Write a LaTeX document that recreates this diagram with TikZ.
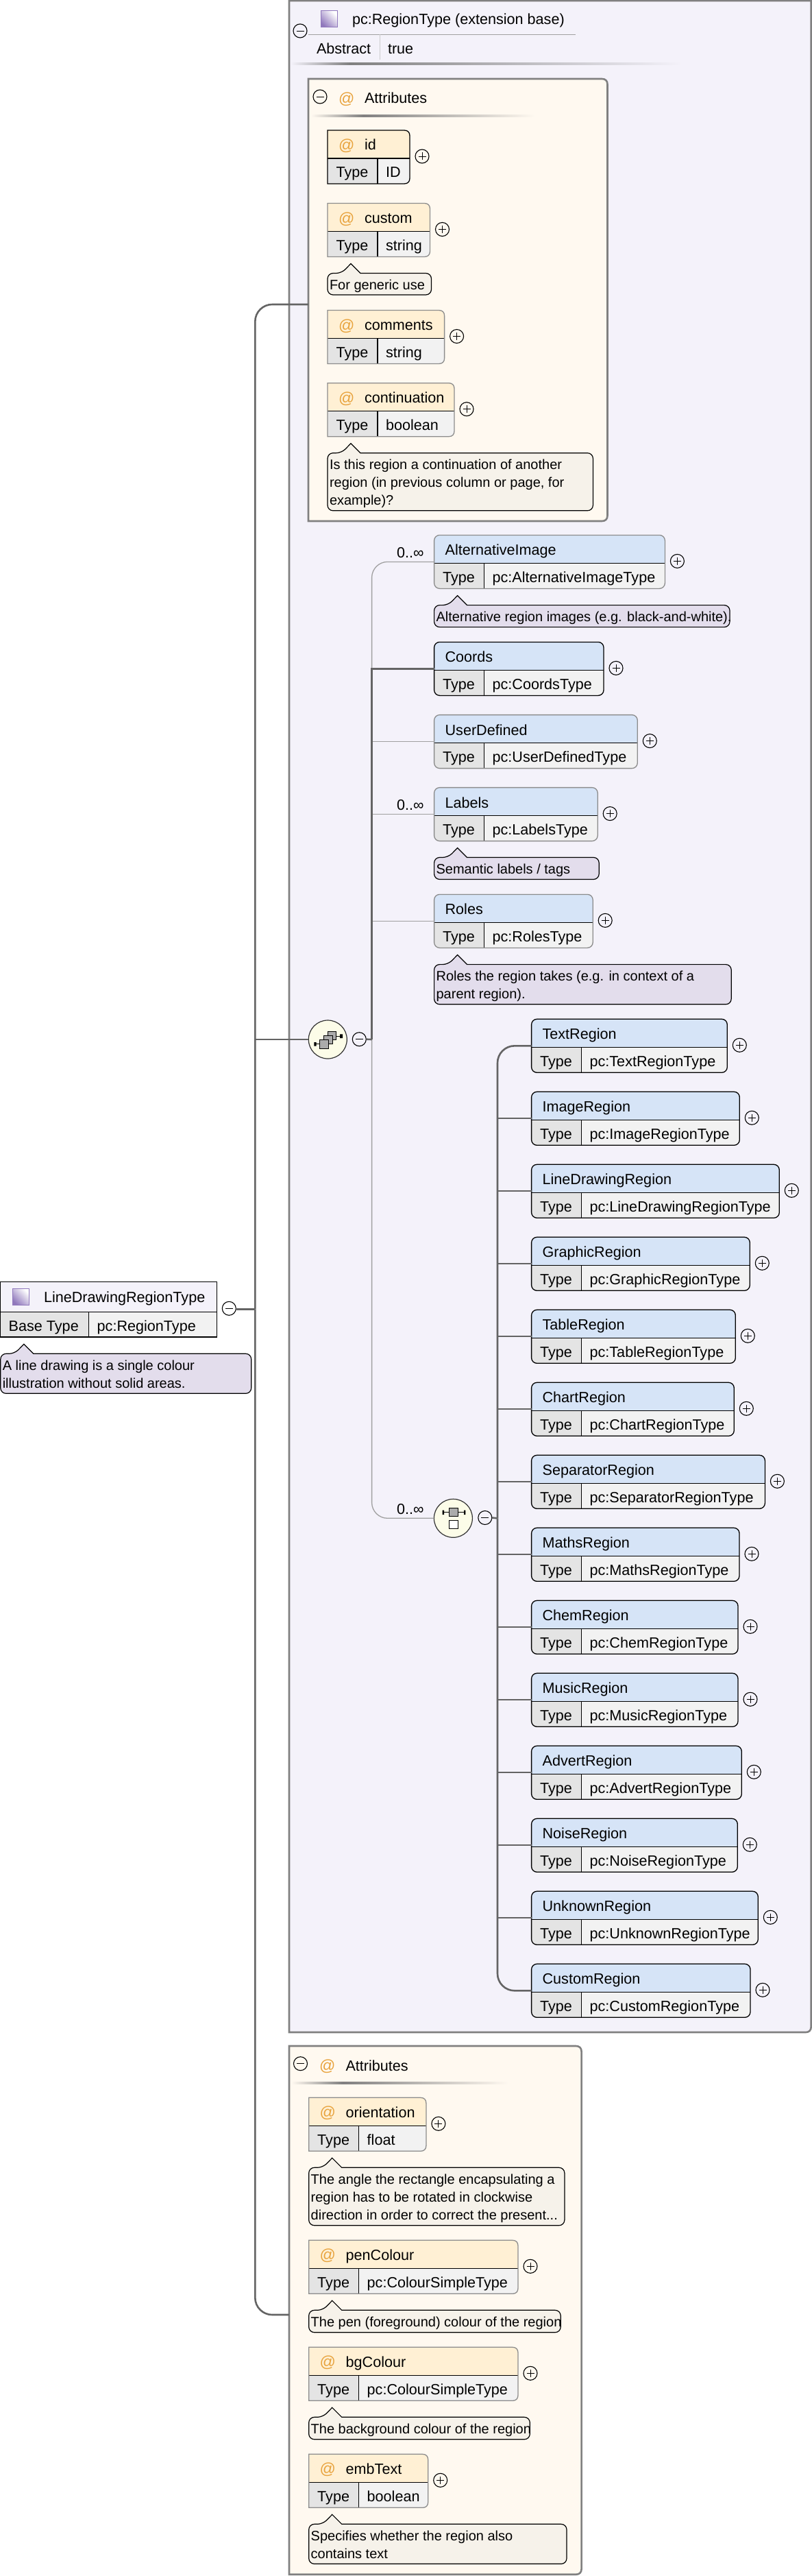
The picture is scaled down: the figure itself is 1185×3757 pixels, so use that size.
\documentclass[tikz,border=0pt]{standalone}
\usepackage{fontspec}
\setmainfont{Liberation Sans}
\definecolor{panelbg}{HTML}{F4F2FA}
\definecolor{attrbg}{HTML}{FFF9F0}
\definecolor{elemhead}{HTML}{D6E4F7}
\definecolor{attrhead}{HTML}{FFF0D4}
\definecolor{valcell}{HTML}{F2F2F2}
\definecolor{typecell}{HTML}{E4E4E4}
\definecolor{notea}{HTML}{E3DDEC}
\definecolor{noteb}{HTML}{F6F2EA}
\definecolor{atcol}{HTML}{E8A33D}
\definecolor{graybd}{HTML}{8C8C8C}
\definecolor{panelbd}{HTML}{808080}
\definecolor{thickc}{HTML}{646464}
\definecolor{thinc}{HTML}{A0A0A0}
\definecolor{iconpurple}{HTML}{9078BC}
\definecolor{compbg}{HTML}{FCFCE8}
\newcommand\sz{\fontsize{21.6}{26}\selectfont}
\newcommand\nsz{\fontsize{20}{26}\selectfont}
\newcommand\atsz{\fontsize{23}{26}\selectfont}
\tikzset{
  boxtext/.style={anchor=base west,inner sep=0pt,outer sep=0pt,font=\sz,text=black},
  attext/.style={anchor=base west,inner sep=0pt,outer sep=0pt,font=\atsz,text=atcol},
  notetext/.style={anchor=north west,inner sep=0pt,outer sep=0pt,font=\nsz,align=left,text=black},
  frame/.style={rectangle,inner sep=0pt,outer sep=0pt,anchor=north west},
  expander/.style={circle,draw=black,line width=1.1pt,minimum size=20pt,inner sep=0pt,outer sep=0pt},
  expmark/.style={black,line width=0.9pt},
  cellrule/.style={black,line width=1.2pt},
  thickconn/.style={thickc,line width=2.6pt},
  thinconn/.style={thinc,line width=1.3pt},
  panelline/.style={panelbd,line width=2.6pt},
  compositor/.style={circle,draw=black!80,line width=1.2pt,fill=compbg,minimum size=56pt,inner sep=0pt,outer sep=0pt},
  typeicon/.style={rectangle,draw=iconpurple,line width=1pt,minimum size=24pt,inner sep=0pt,left color=white,right color=iconpurple,shading angle=-45},
  iconbit/.style={draw=black,line width=1pt,fill=black!33},
}
% outline with square left corners and rounded right corners: x1,x2,top,bottom
\newcommand\rpath[4]{(#1,#3) -- (#2-8,#3) .. controls (#2-3,#3) and (#2,#3+3) .. (#2,#3+8) -- (#2,#4-8) .. controls (#2,#4-3) and (#2-3,#4) .. (#2-8,#4) -- (#1,#4) -- cycle}
% expander circles
\newcommand\plusnode[3]{\node[expander] (#1) at (#2,#3) {};
  \draw[expmark] (#1.center)+(-5.5,0) -- +(5.5,0); \draw[expmark] (#1.center)+(0,-5.5) -- +(0,5.5);}
\newcommand\minusnode[3]{\node[expander] (#1) at (#2,#3) {};
  \draw[expmark] (#1.center)+(-5.5,0) -- +(5.5,0);}
% element box: name,x1,x2,top,border,title,value
\newcommand\elembox[7]{%
  \begin{scope}
    \clip[rounded corners=8] (#2,#4) rectangle (#3,#4+78);
    \fill[elemhead] (#2,#4) rectangle (#3,#4+41);
    \fill[typecell] (#2,#4+41) rectangle (#2+73,#4+78);
    \fill[valcell] (#2+73,#4+41) rectangle (#3,#4+78);
  \end{scope}
  \draw[cellrule] (#2,#4+41) -- (#3,#4+41) (#2+73,#4+41) -- (#2+73,#4+78);
  \node[frame,draw=#5,line width=1.3pt,rounded corners=8,minimum width={(#3-#2)*1pt},minimum height=78pt] (#1) at (#2,#4) {};
  \node[boxtext] (#1-title) at (#2+16,#4+29.5) {#6};
  \node[boxtext] (#1-type) at (#2+12.5,#4+69) {Type};
  \node[boxtext] (#1-value) at (#2+85,#4+69) {#7};
  \plusnode{#1-plus}{#3+18}{#4+38}}
% attribute box: name,x1,x2,top,border,title,value
\newcommand\attrbox[7]{%
  \begin{scope}
    \clip \rpath{#2}{#3}{#4}{#4+78};
    \fill[attrhead] (#2,#4) rectangle (#3,#4+41);
    \fill[typecell] (#2,#4+41) rectangle (#2+73,#4+78);
    \fill[valcell] (#2+73,#4+41) rectangle (#3,#4+78);
  \end{scope}
  \draw[cellrule] (#2,#4+41) -- (#3,#4+41) (#2+73,#4+41) -- (#2+73,#4+78);
  \draw[#5,line width=1.3pt] \rpath{#2}{#3}{#4}{#4+78};
  \node[frame,minimum width={(#3-#2)*1pt},minimum height=78pt] (#1) at (#2,#4) {};
  \node[attext] (#1-at) at (#2+16,#4+29.5) {@};
  \node[boxtext] (#1-title) at (#2+54,#4+29) {#6};
  \node[boxtext] (#1-type) at (#2+12.5,#4+69) {Type};
  \node[boxtext] (#1-value) at (#2+85,#4+69) {#7};
  \plusnode{#1-plus}{#3+18}{#4+38}}
% annotation: name,x1,x2,base,bottom,fill,text
\newcommand\notebox[7]{%
  \draw[black,line width=1.2pt,fill=#6,rounded corners=8] (#2+48,#4) -- (#3,#4) -- (#3,#5) -- (#2,#5) -- (#2,#4) -- (#2+20.5,#4) [sharp corners] -- (#2+34,#4-14) -- cycle;
  \node[notetext] (#1) at (#2+3,#4+5.8) {\strut #7};}
% attribute group panel: name,x1,x2,top,bottom
\newcommand\attrpanel[5]{%
  \draw[panelline,fill=attrbg] \rpath{#2}{#3}{#4}{#5};
  \node[frame,minimum width={(#3-#2)*1pt},minimum height={(#5-#4)*1pt}] (#1) at (#2,#4) {};}
\newcommand\fadeline[6]{% x1,xpeak,x2,y,bg,peak colour
  \shade[left color=#5,right color=#6] (#1,#4-1.5) rectangle (#2,#4+1.5);
  \shade[left color=#6,right color=#5] (#2,#4-1.5) rectangle (#3,#4+1.5);}
\begin{document}
\begin{tikzpicture}[x=1pt,y=-1pt]
\useasboundingbox (0,0) rectangle (1185,3757);
\fill[white] (0,0) rectangle (1185,3757);

% extension-base panel
\draw[panelline,fill=panelbg] (422,1) -- (1183.7,1) -- (1183.7,2956) .. controls (1183.7,2961) and (1180.7,2964) .. (1175.7,2964) -- (422,2964) -- cycle;
\node[frame,minimum width=761pt,minimum height=2963pt] (basepanel) at (422,1) {};
\minusnode{base-minus}{438}{45}
\node[typeicon] (base-icon) at (480,28) {};
\node[boxtext] (base-title) at (514,36) {pc:RegionType (extension base)};
\draw[thinc,line width=1.2pt] (450,50.5) -- (840,50.5);
\draw[black!20,line width=1pt] (554,50.5) -- (554,87);
\node[boxtext] (base-abstract) at (462,78.6) {Abstract};
\node[boxtext] (base-true) at (566,78.6) {true};
\fadeline{424}{510}{995}{93.5}{panelbg}{panelbd}

% attributes of the base type
\attrpanel{attrsA}{450}{886.5}{115}{760}
\coordinate (attrsA-in) at (450,444);
\minusnode{attrsA-minus}{467}{141}
\node[attext] (attrsA-at) at (494,151.5) {@};
\node[boxtext] (attrsA-title) at (532,151) {Attributes};
\fadeline{454}{530}{781}{169}{attrbg}{panelbd}

\attrbox{aId}{478}{598}{190}{black}{id}{ID}
\attrbox{aCustom}{478}{627.5}{296.5}{graybd}{custom}{string}
\notebox{nCustom}{478}{629.5}{398.5}{430}{noteb}{For generic use}
\attrbox{aComments}{478}{648.6}{452.5}{graybd}{comments}{string}
\attrbox{aContinuation}{478}{663}{558.7}{graybd}{continuation}{boolean}
\notebox{nContinuation}{478}{865.4}{660.7}{744.8}{noteb}{Is this region a continuation of another\\region (in previous column or page, for\\example)?}

% sequence children
\elembox{eAltImage}{633.6}{970.4}{780.4}{graybd}{AlternativeImage}{pc:AlternativeImageType}
\notebox{nAltImage}{633.6}{1065}{882.6}{914.6}{notea}{Alternative region images (e.g. black-and-white).}
\elembox{eCoords}{633.6}{881}{936.4}{black}{Coords}{pc:CoordsType}
\elembox{eUserDefined}{633.6}{930.3}{1042.6}{graybd}{UserDefined}{pc:UserDefinedType}
\elembox{eLabels}{633.6}{872.2}{1148.6}{graybd}{Labels}{pc:LabelsType}
\notebox{nLabels}{633.6}{874.2}{1250.5}{1282.5}{notea}{Semantic labels / tags}
\elembox{eRoles}{633.6}{865.2}{1304.4}{graybd}{Roles}{pc:RolesType}
\notebox{nRoles}{633.6}{1067.2}{1406.6}{1464.8}{notea}{Roles the region takes (e.g. in context of a\\parent region).}

\node[boxtext] (occAlt) at (579,813) {0..∞};
\node[boxtext] (occLabels) at (579,1181) {0..∞};
\node[boxtext] (occChoice) at (579,2208) {0..∞};

% sequence compositor
\node[compositor] (seq) at (478.3,1516) {};
\draw[iconbit] (478.3,1504) rectangle (490.7,1516.7);
\draw[iconbit] (472.7,1510.3) rectangle (485,1522.7);
\draw[iconbit] (466.7,1516.7) rectangle (479,1529);
\draw[black,line width=1pt] (460,1522.8) -- (466.7,1522.8) (490.7,1511) -- (498,1511);
\fill[black] (458.3,1520) rectangle (461.7,1525.7) (496,1508.3) rectangle (500,1514);
\minusnode{seq-minus}{524.3}{1515.7}
\coordinate (seqbus) at (542.6,1516);

% choice compositor
\node[compositor] (choice) at (661.4,2214.3) {};
\draw[black,line width=1pt] (646,2205.7) -- (679,2205.7);
\fill[black] (645.7,2202.7) rectangle (648,2209) (677,2202.7) rectangle (679.4,2209);
\draw[iconbit] (655.7,2199) rectangle (668,2211.3);
\draw[black,line width=1pt,fill=white] (655.7,2217.3) rectangle (668,2229.7);
\minusnode{choice-minus}{707.8}{2213.5}
\coordinate (choicebus) at (726,2214.3);

% choice children
\elembox{rText}{775.6}{1061.3}{1486.3}{black}{TextRegion}{pc:TextRegionType}
\elembox{rImage}{775.6}{1079.3}{1592.3}{black}{ImageRegion}{pc:ImageRegionType}
\elembox{rLine}{775.6}{1137.3}{1698.3}{black}{LineDrawingRegion}{pc:LineDrawingRegionType}
\elembox{rGraphic}{775.6}{1094.3}{1804.3}{black}{GraphicRegion}{pc:GraphicRegionType}
\elembox{rTable}{775.6}{1073.3}{1910.3}{black}{TableRegion}{pc:TableRegionType}
\elembox{rChart}{775.6}{1071.3}{2016.3}{black}{ChartRegion}{pc:ChartRegionType}
\elembox{rSeparator}{775.6}{1116.4}{2122.3}{black}{SeparatorRegion}{pc:SeparatorRegionType}
\elembox{rMaths}{775.6}{1079}{2228.3}{black}{MathsRegion}{pc:MathsRegionType}
\elembox{rChem}{775.6}{1077}{2334.3}{black}{ChemRegion}{pc:ChemRegionType}
\elembox{rMusic}{775.6}{1077}{2440.3}{black}{MusicRegion}{pc:MusicRegionType}
\elembox{rAdvert}{775.6}{1082.3}{2546.3}{black}{AdvertRegion}{pc:AdvertRegionType}
\elembox{rNoise}{775.6}{1076.3}{2652.3}{black}{NoiseRegion}{pc:NoiseRegionType}
\elembox{rUnknown}{775.6}{1106.3}{2758.3}{black}{UnknownRegion}{pc:UnknownRegionType}
\elembox{rCustom}{775.6}{1095}{2864.3}{black}{CustomRegion}{pc:CustomRegionType}

% own attributes
\attrpanel{attrsB}{422}{848.6}{2984}{3754.7}
\coordinate (attrsB-in) at (422,3376);
\minusnode{attrsB-minus}{438.5}{3009.7}
\node[attext] (attrsB-at) at (466,3020.5) {@};
\node[boxtext] (attrsB-title) at (504.5,3020) {Attributes};
\fadeline{425}{500}{742}{3038}{attrbg}{panelbd}

\attrbox{aOrientation}{450.7}{621.9}{3059.3}{graybd}{orientation}{float}
\notebox{nOrientation}{450.7}{823.9}{3161.3}{3245.7}{noteb}{The angle the rectangle encapsulating a\\region has to be rotated in clockwise\\direction in order to correct the present...}
\attrbox{aPen}{450.7}{756}{3267.3}{graybd}{penColour}{pc:ColourSimpleType}
\notebox{nPen}{450.7}{818.2}{3369.3}{3401.7}{noteb}{The pen (foreground) colour of the region}
\attrbox{aBg}{450.7}{756}{3423.3}{graybd}{bgColour}{pc:ColourSimpleType}
\notebox{nBg}{450.7}{773.3}{3525.3}{3557.7}{noteb}{The background colour of the region}
\attrbox{aEmb}{450.7}{624.7}{3579.3}{graybd}{embText}{boolean}
\notebox{nEmb}{450.7}{827}{3681.3}{3739.3}{noteb}{Specifies whether the region also\\contains text}

% root type
\fill[panelbg] (0.8,1869.8) rectangle (316.5,1913.3);
\fill[typecell] (0.8,1913.3) rectangle (129.3,1950);
\fill[valcell] (129.3,1913.3) rectangle (316.5,1950);
\draw[cellrule] (0.8,1913.3) -- (316.5,1913.3) (129.3,1913.3) -- (129.3,1950);
\node[frame,draw=black,line width=1.3pt,minimum width=315.7pt,minimum height=80.5pt] (root) at (0.8,1869.6) {};
\node[typeicon] (root-icon) at (30.3,1891.3) {};
\node[boxtext] (root-title) at (64,1899) {LineDrawingRegionType};
\node[boxtext] (root-base) at (12.7,1941) {Base Type};
\node[boxtext] (root-value) at (141.7,1941) {pc:RegionType};
\notebox{nRoot}{0.8}{366.7}{1974.3}{2032.3}{notea}{A line drawing is a single colour\\illustration without solid areas.}
\minusnode{root-minus}{334.3}{1908.3}
\coordinate (rootbus) at (372.3,1909.3);

% connectors of the root
\draw[thickconn] (root-minus.east) ++(0,1) -- (rootbus);
\draw[thickconn,rounded corners=25] (attrsA-in) -| (rootbus);
\draw[thickconn,rounded corners=25] (attrsB-in) -| (rootbus);
\draw[thickconn] (seq.west) -- (seq.west -| rootbus);

% connectors of the sequence
\draw[thinconn,rounded corners=23] (eAltImage.west) -| (seqbus);
\draw[thinconn,rounded corners=23] (choice.west) -| (seqbus);
\draw[thinconn] (eUserDefined.west) -- (eUserDefined.west -| seqbus);
\draw[thinconn] (eLabels.west) -- (eLabels.west -| seqbus);
\draw[thinconn] (eRoles.west) -- (eRoles.west -| seqbus);
\draw[thickconn] (eCoords.west) -| (seqbus);
\draw[thickconn] (seq-minus.east) -- (seqbus);

% connectors of the choice
\draw[thickconn] (choice-minus.east) -- (choicebus);
\draw[thickconn,rounded corners=25] (rText.west) -| (choicebus);
\draw[thickconn,rounded corners=25] (rCustom.west) -| (choicebus);
\foreach \r in {rImage,rLine,rGraphic,rTable,rChart,rSeparator,rMaths,rChem,rMusic,rAdvert,rNoise,rUnknown}
  \draw[thickconn,line width=2pt] (\r.west) -- (\r.west -| choicebus);
\end{tikzpicture}
\end{document}
